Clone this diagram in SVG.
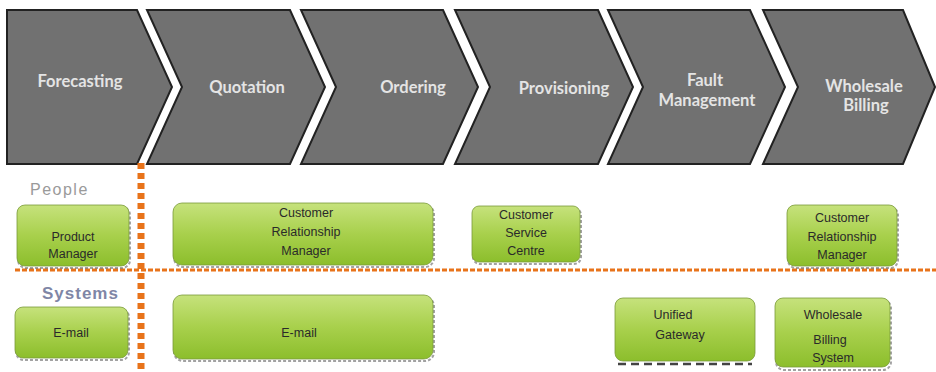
<svg xmlns="http://www.w3.org/2000/svg" width="936" height="372" viewBox="0 0 936 372">
<defs>
<linearGradient id="g" x1="0" y1="0" x2="0" y2="1">
<stop offset="0" stop-color="#c6e27c"/>
<stop offset="0.5" stop-color="#a8d04c"/>
<stop offset="1" stop-color="#8cbe2c"/>
</linearGradient>
<style>
.chev{fill:#717171;stroke:#222;stroke-width:2;stroke-linejoin:miter}
.ct{font-family:Lato,"Open Sans",sans-serif;font-weight:bold;font-size:16.5px;fill:#e4e4e4;text-anchor:middle}
.box{fill:url(#g);stroke:#7a9a3a;stroke-width:0.8}
.sh{fill:none;stroke:#555;stroke-width:2;stroke-dasharray:3 2;opacity:0.55}
.bt{font-family:"Liberation Sans",Arial,sans-serif;font-size:12.5px;fill:#2a2a2a;text-anchor:middle}
.lbl{font-family:"Liberation Sans",Arial,sans-serif}
.div{stroke:#e8731a;fill:none}
</style>
</defs>
<rect width="936" height="372" fill="#fff"/>
<g id="stage-forecasting"><path class="chev" d="M7,10 L137,10 L172,87 L137,164 L7,164 Z"/><text class="ct" x="80" y="87">Forecasting</text></g>
<g id="stage-quotation"><path class="chev" d="M147,10 L290,10 L325,87 L290,164 L147,164 L182,87 Z"/><text class="ct" x="247" y="93">Quotation</text></g>
<g id="stage-ordering"><path class="chev" d="M301,10 L443,10 L478,87 L443,164 L301,164 L336,87 Z"/><text class="ct" x="413" y="93">Ordering</text></g>
<g id="stage-provisioning"><path class="chev" d="M455,10 L598,10 L633,87 L598,164 L455,164 L490,87 Z"/><text class="ct" x="564" y="94">Provisioning</text></g>
<g id="stage-fault"><path class="chev" d="M608,10 L750,10 L785,87 L750,164 L608,164 L643,87 Z"/><text class="ct" x="705" y="86">Fault</text><text class="ct" x="707" y="106">Management</text></g>
<g id="stage-billing"><path class="chev" d="M763,10 L903,10 L935,87 L903,164 L763,164 L798,87 Z"/><text class="ct" x="864" y="92">Wholesale</text><text class="ct" x="866" y="111">Billing</text></g>

<g id="dividers">
<line class="div" x1="15" y1="270" x2="936" y2="270" stroke-width="3" stroke-dasharray="5 2"/>
<line class="div" x1="141" y1="163" x2="141" y2="372" stroke-width="7" stroke-dasharray="6 4"/>
</g>

<g id="label-people"><text class="lbl" x="30" y="195" font-size="16" letter-spacing="1.5" fill="#9a9a9a">People</text></g>
<g id="label-systems"><text class="lbl" x="42" y="299" font-size="17" letter-spacing="1" fill="#7f86a6" font-weight="bold">Systems</text></g>

<g id="node-product-manager"><rect class="sh" x="18" y="207" width="112" height="61" rx="8"/><rect class="box" x="17" y="205" width="112" height="61" rx="8"/><text class="bt" x="73" y="241">Product</text><text class="bt" x="73" y="258">Manager</text></g>
<g id="node-crm1"><rect class="sh" x="174" y="205" width="260" height="62" rx="9"/><rect class="box" x="173" y="203" width="260" height="62" rx="9"/><text class="bt" x="306" y="217">Customer</text><text class="bt" x="306" y="236">Relationship</text><text class="bt" x="306" y="255">Manager</text></g>
<g id="node-csc"><rect class="sh" x="473" y="208" width="108" height="56" rx="7"/><rect class="box" x="472" y="206" width="108" height="56" rx="7"/><text class="bt" x="526" y="219">Customer</text><text class="bt" x="526" y="237">Service</text><text class="bt" x="526" y="255">Centre</text></g>
<g id="node-crm2"><rect class="sh" x="788" y="207" width="110" height="61" rx="8"/><rect class="box" x="787" y="205" width="110" height="61" rx="8"/><text class="bt" x="842" y="222">Customer</text><text class="bt" x="842" y="241">Relationship</text><text class="bt" x="842" y="259">Manager</text></g>
<g id="node-email1"><rect class="sh" x="16" y="309" width="113" height="51" rx="8"/><rect class="box" x="15" y="307" width="113" height="51" rx="8"/><text class="bt" x="71" y="337">E-mail</text></g>
<g id="node-email2"><rect class="sh" x="174" y="297" width="260" height="64" rx="9"/><rect class="box" x="173" y="295" width="260" height="64" rx="9"/><text class="bt" x="299" y="337">E-mail</text></g>
<g id="node-unified-gateway"><rect class="box" x="615" y="298" width="140" height="63" rx="8"/><line x1="618" y1="364" x2="752" y2="364" stroke="#444" stroke-width="2.5" stroke-dasharray="8 5"/><text class="bt" x="673" y="319">Unified</text><text class="bt" x="680" y="339">Gateway</text></g>
<g id="node-wbs"><rect class="sh" x="776" y="300" width="115" height="70" rx="8"/><rect class="box" x="775" y="298" width="115" height="69" rx="8"/><text class="bt" x="833" y="319">Wholesale</text><text class="bt" x="830" y="344">Billing</text><text class="bt" x="833" y="362">System</text></g>
</svg>
